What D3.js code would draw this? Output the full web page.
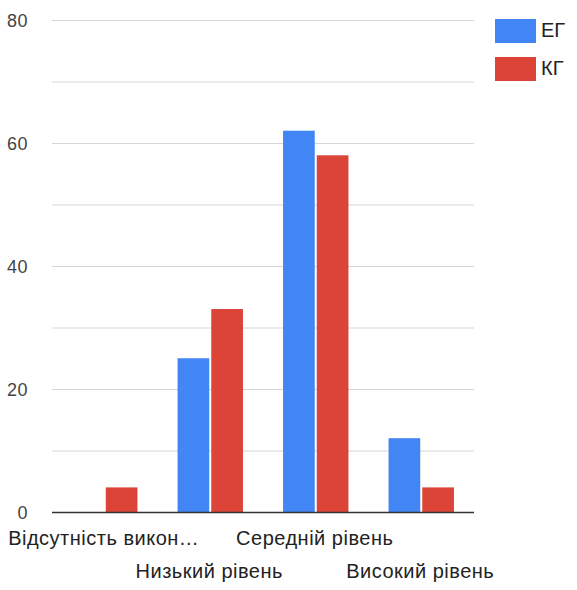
<!DOCTYPE html>
<html><head><meta charset="utf-8">
<script src="https://cdn.jsdelivr.net/npm/d3@7"></script>
<style>body{margin:0;background:#fff;} text{font-family:"Liberation Sans",Arial,sans-serif;}</style>
</head><body><svg id="c" width="577" height="590"></svg>
<script>
const categories = ["Відсутність викон…", "Низький рівень", "Середній рівень", "Високий рівень"];
const seriesNames = ["ЕГ", "КГ"];
const egValues = [0, 25, 62, 12];
const kgValues = [4, 33, 58, 4];
const yTickLabels = [0, 20, 40, 60, 80];
const gridValues = [0, 10, 20, 30, 40, 50, 60, 70, 80];
const colors = ["#4285f4", "#db4437"];

(function(){
const svg = d3.select("#c");
const pLeft = 52, pRight = 474, pTop = 20, pBottom = 512;
const x = d3.scaleBand().domain(categories).range([pLeft, pRight]).paddingInner(0.38).paddingOuter(0.19);
const xs = d3.scaleBand().domain(seriesNames).range([0, x.bandwidth()]).paddingInner(0.06);
const y = d3.scaleLinear().domain([0, 80]).range([pBottom, pTop]);

svg.append("g").selectAll("line").data(gridValues.filter(v => v !== 0)).join("line")
  .attr("x1", pLeft).attr("x2", pRight).attr("y1", d => y(d) + 0.5).attr("y2", d => y(d) + 0.5)
  .attr("stroke", "#d6d6d6").attr("stroke-width", 1);

svg.append("g").selectAll("text").data(yTickLabels).join("text")
  .attr("x", 28).attr("y", d => y(d) + 2).attr("text-anchor", "end").attr("dominant-baseline", "middle")
  .attr("font-size", 18).attr("letter-spacing", "0.5px").attr("fill", "#444").text(d => d);

const data = categories.map((c, i) => ({c, vals: [egValues[i], kgValues[i]]}));
const g = svg.append("g").selectAll("g").data(data).join("g")
  .attr("transform", d => `translate(${x(d.c)},0)`);
g.selectAll("rect").data(d => d.vals.map((v, j) => ({v, s: seriesNames[j], j}))).join("rect")
  .attr("x", d => xs(d.s)).attr("width", xs.bandwidth())
  .attr("y", d => y(d.v)).attr("height", d => y(0) - y(d.v))
  .attr("fill", d => colors[d.j]);

svg.append("line").attr("x1", pLeft).attr("x2", pRight).attr("y1", pBottom + 0.5).attr("y2", pBottom + 0.5)
  .attr("stroke", "#333").attr("stroke-width", 1.5);

svg.append("g").selectAll("text").data(categories).join("text")
  .attr("x", d => x(d) + x.bandwidth() / 2 - 1)
  .attr("y", (d, i) => i % 2 === 0 ? 540 : 573)
  .attr("text-anchor", "middle").attr("dominant-baseline", "middle")
  .attr("font-size", 20).attr("letter-spacing", "0.5px").attr("fill", "#222").text(d => d);

const lg = svg.append("g").selectAll("g").data(seriesNames).join("g")
  .attr("transform", (d, i) => `translate(495,${19 + i * 38})`);
lg.append("rect").attr("width", 41).attr("height", 24).attr("fill", (d, i) => colors[i]);
lg.append("text").attr("x", 46).attr("y", 13).attr("dominant-baseline", "middle")
  .attr("font-size", 20).attr("fill", "#222").text(d => d);
})();
</script></body></html>
